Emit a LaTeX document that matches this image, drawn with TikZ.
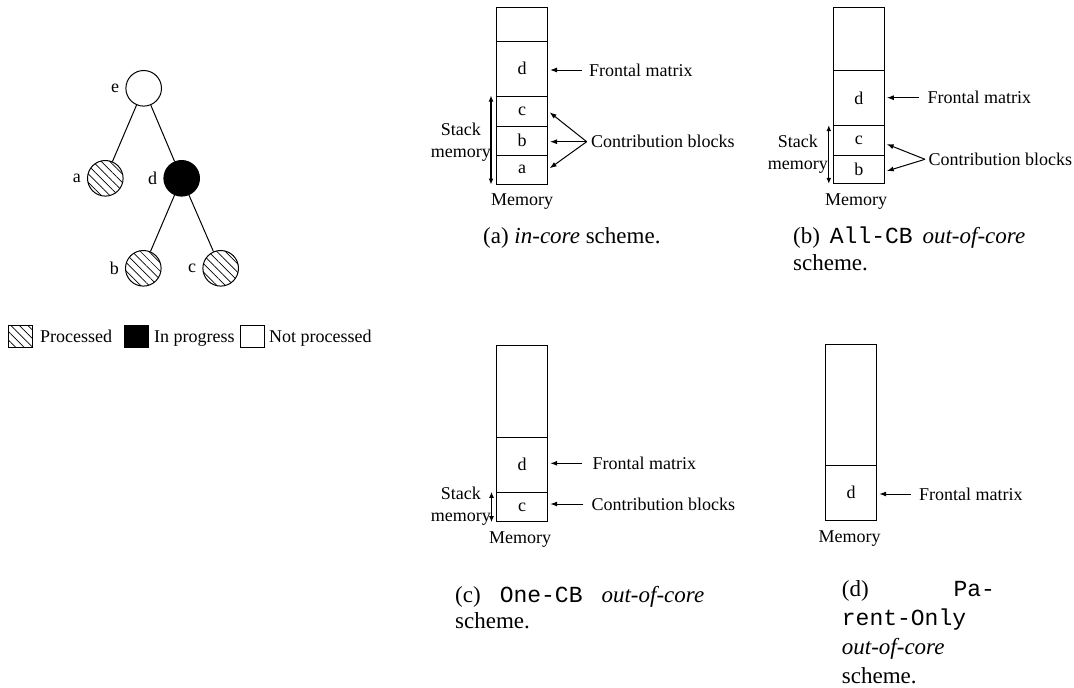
\documentclass[tikz,border=0pt]{standalone}
\usepackage{fontspec}
\setmainfont{Liberation Serif}
\setmonofont{Liberation Mono}
\usetikzlibrary{arrows.meta,patterns.meta}
\begin{document}
\begin{tikzpicture}[x=1pt,y=-1pt,
  lab/.style={font=\fontsize{18}{22}\selectfont, inner sep=0pt},
  tnode/.style={circle,draw,line width=1pt,minimum size=35.6pt,inner sep=0pt},
  hatch/.style={pattern={Lines[angle=-45,distance=6pt,line width=0.7pt]}},
  done/.style={tnode,hatch},
  blk/.style={draw,line width=1pt,minimum width=51pt,inner sep=0pt,font=\fontsize{18}{22}\selectfont},
  arr/.style={line width=1pt,-{Latex[length=7pt,width=5pt]},shorten >=2pt},
  dbl/.style={line width=1.3pt,{Latex[length=6pt,width=5pt]}-{Latex[length=6pt,width=5pt]}},
  captxt/.style={inner sep=0pt, anchor=north west, align=left},
  legbox/.style={draw,line width=1pt,minimum width=24pt,minimum height=22pt,inner sep=0pt},
  treeline/.style={line width=1pt},
]
\useasboundingbox (0,0) rectangle (1074,688);

% ---------- tree ----------
\node[tnode, label={[lab,label distance=6pt]left:e}] (e) at (143.7,88.3) {};
\node[done, label={[lab,label distance=6pt]left:a}] (a) at (105.3,178.3) {};
\node[tnode, fill=black, label={[lab,label distance=6pt]left:d}] (d) at (181.7,178.3) {};
\node[done, label={[lab,label distance=6pt]left:b}] (b) at (143.3,268.3) {};
\node[done, label={[lab,label distance=6pt]left:c}] (c) at (220.7,268.3) {};
\draw[treeline] (e) -- (a);
\draw[treeline] (e) -- (d);
\draw[treeline] (d) -- (b);
\draw[treeline] (d) -- (c);

% ---------- legend ----------
\node[legbox,hatch] (lp) at (20.3,336) {};
\node[lab,anchor=base west] (lpt) at (40,342) {Processed};
\node[legbox,fill=black] (li) at (136.2,336) {};
\node[lab,anchor=base west] (lit) at (154,342) {In progress};
\node[legbox] (ln) at (252.5,336) {};
\node[lab,anchor=base west] (lnt) at (269,342) {Not processed};

% ---------- (a) ----------
\node[blk,minimum height=33.7pt] (a0) at (522,24.15) {};
\node[blk,minimum height=55pt] (ad) at (522,68.5) {d};
\node[blk,minimum height=30pt] (ac) at (522,111) {c};
\node[blk,minimum height=29pt] (ab) at (522,140.5) {b};
\node[blk,minimum height=29pt] (aa) at (522,169.5) {a};
\node[lab,anchor=west,inner xsep=7pt] (afm) at (582,70) {Frontal matrix};
\draw[arr] (afm.west) -- (afm.west -| ad.east);
\node[lab,anchor=west,inner xsep=4.3pt] (acb) at (586.7,141.7) {Contribution blocks};
\draw[arr] (acb.west) -- (ac.east);
\draw[arr] (acb.west) -- (acb.west -| ab.east);
\draw[arr] (acb.west) -- (aa.east);
\draw[dbl] ([xshift=-5pt]ac.north west) -- ([xshift=-5pt]aa.south west);
\node[lab,anchor=east,align=center] (asm) at (491,142) {Stack\\memory};
\node[lab] (amem) at (522,201.7) {Memory};
\node[captxt,font=\fontsize{23}{26}\selectfont] (acap) at (483,227) {(a) \emph{in-core} scheme.};

% ---------- (b) ----------
\node[blk,minimum height=63.4pt] (b0) at (858.8,39) {};
\node[blk,minimum height=55pt] (bd) at (858.8,98.2) {d};
\node[blk,minimum height=29.3pt] (bc) at (858.8,140.35) {c};
\node[blk,minimum height=28.3pt] (bb) at (858.8,169.15) {b};
\node[lab,anchor=west,inner xsep=8.3pt] (bfm) at (919,97.7) {Frontal matrix};
\draw[arr] (bfm.west) -- (bfm.west -| bd.east);
\node[lab,anchor=west,inner xsep=3.3pt] (bcb) at (925,159.3) {Contribution blocks};
\draw[arr] (bcb.west) -- ([yshift=-3pt]bc.east);
\draw[arr] (bcb.west) -- ([yshift=-2.5pt]bb.east);
\draw[dbl] ([xshift=-4pt]bc.north west) -- ([xshift=-4pt]bb.south west);
\node[lab,anchor=east,align=center] (bsm) at (828,154) {Stack\\memory};
\node[lab] (bmem) at (856,201.7) {Memory};
\node[captxt,font=\fontsize{23}{27}\selectfont] (bcap) at (793,227)
  {\hbox to 232pt{(b)\hfill\texttt{All-CB}\hfill\emph{out-of-core}}\\scheme.};

% ---------- (c) ----------
\node[blk,minimum height=91.6pt] (c0) at (522.2,391.5) {};
\node[blk,minimum height=55pt] (cd) at (522.2,464.8) {d};
\node[blk,minimum height=29.4pt] (cc) at (522.2,507) {c};
\node[lab,anchor=west,inner xsep=10pt] (cfm) at (582.3,463.3) {Frontal matrix};
\draw[arr] (cfm.west) -- (cfm.west -| cd.east);
\node[lab,anchor=west,inner xsep=8pt] (ccb) at (583.3,504) {Contribution blocks};
\draw[arr] (ccb.west) -- (ccb.west -| cc.east);
\draw[dbl] ([xshift=-4.7pt]cc.north west) -- ([xshift=-4.7pt]cc.south west);
\node[lab,anchor=east,align=center] (csm) at (491,506.3) {Stack\\memory};
\node[lab] (cmem) at (520,540) {Memory};
\node[captxt,font=\fontsize{23}{26}\selectfont] (ccap) at (455,586)
  {\hbox to 249pt{(c)\hfill\texttt{One-CB}\hfill\emph{out-of-core}}\\scheme.};

% ---------- (d) ----------
\node[blk,minimum height=121.5pt] (d0) at (851.2,404.75) {};
\node[blk,minimum height=54.5pt] (dd) at (851.2,492.75) {d};
\node[lab,anchor=west,inner xsep=8.3pt] (dfm) at (910.7,494) {Frontal matrix};
\draw[arr] (dfm.west) -- (dfm.west -| dd.east);
\node[lab] (dmem) at (849.5,538.3) {Memory};
\node[captxt,font=\fontsize{23}{29}\selectfont] (dcap) at (841.7,580)
  {\hbox to 153pt{(d)\hfill\texttt{Pa-}}\\\texttt{rent-Only}\\\emph{out-of-core}\\scheme.};
\end{tikzpicture}
\end{document}
